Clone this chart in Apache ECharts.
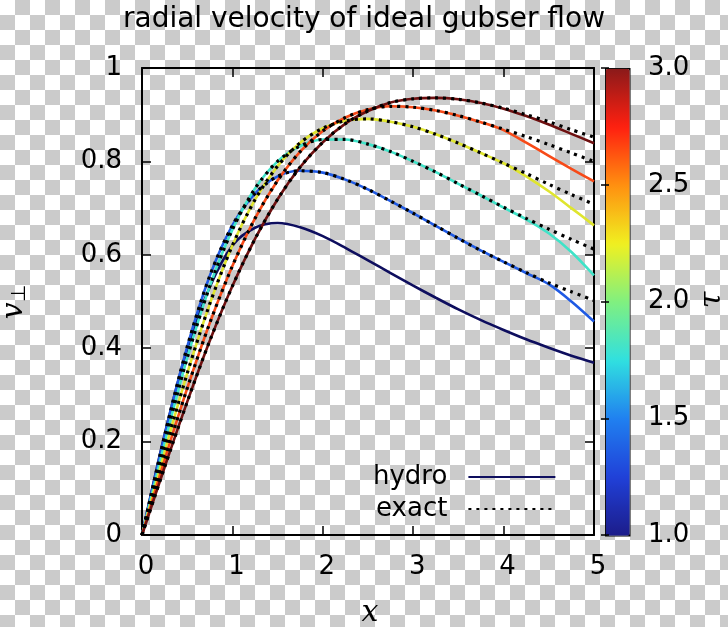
<!DOCTYPE html>
<html>
<head>
<meta charset="utf-8">
<script src="https://cdn.jsdelivr.net/npm/echarts@6/dist/echarts.min.js"></script>
<style>
html,body{margin:0;padding:0;}
body{width:728px;height:627px;background:repeating-conic-gradient(#cbcbcb 0 25%, #ffffff 0 50%) 0 0/30px 30px;}
#c{width:728px;height:627px;}
</style>
</head>
<body>
<div id="c"></div>
<script>
// ---- data ----
const xs = [0,0.25,0.5,0.75,1,1.25,1.5,1.75,2,2.25,2.5,2.75,3,3.25,3.5,3.75,4,4.25,4.5,4.75,5];
const taus = [1.0, 1.4, 1.8, 2.2, 2.6, 3.0];
const tauColors = ['#0e0e5e','#1f5ae4','#3fe3c8','#dfe52e','#f74a18','#6e1010'];

const hydro10 = [0,0.215,0.398,0.531,0.620,0.658,0.668,0.659,0.640,0.615,0.588,0.561,0.534,0.508,0.483,0.460,0.439,0.419,0.401,0.384,0.369];
const hydro14 = [0,0.213,0.403,0.555,0.663,0.731,0.768,0.780,0.776,0.761,0.740,0.715,0.689,0.662,0.635,0.609,0.585,0.561,0.537,0.500,0.457];
const hydro18 = [0,0.197,0.379,0.533,0.654,0.742,0.800,0.833,0.847,0.847,0.837,0.821,0.800,0.777,0.752,0.727,0.701,0.676,0.646,0.606,0.556];
const hydro22 = [0,0.178,0.346,0.495,0.620,0.718,0.790,0.840,0.871,0.887,0.891,0.885,0.874,0.858,0.839,0.818,0.796,0.768,0.736,0.700,0.663];
const hydro26 = [0,0.161,0.314,0.454,0.576,0.678,0.759,0.821,0.865,0.894,0.911,0.918,0.916,0.909,0.898,0.884,0.867,0.840,0.812,0.784,0.757];
const hydro30 = [0,0.145,0.285,0.416,0.533,0.634,0.719,0.788,0.841,0.881,0.908,0.926,0.934,0.936,0.933,0.925,0.913,0.897,0.879,0.859,0.839];

const exact14 = [0,0.213,0.403,0.555,0.663,0.731,0.768,0.780,0.776,0.761,0.740,0.715,0.689,0.662,0.635,0.609,0.585,0.562,0.540,0.521,0.502];
const exact18 = [0,0.197,0.379,0.533,0.654,0.742,0.800,0.833,0.847,0.847,0.837,0.821,0.800,0.777,0.752,0.727,0.702,0.678,0.655,0.633,0.612];
const exact22 = [0,0.178,0.346,0.495,0.620,0.718,0.790,0.840,0.871,0.887,0.891,0.885,0.874,0.858,0.839,0.818,0.796,0.774,0.751,0.729,0.708];
const exact26 = [0,0.161,0.314,0.454,0.576,0.678,0.759,0.821,0.865,0.894,0.911,0.918,0.916,0.909,0.898,0.884,0.869,0.853,0.836,0.818,0.800];
const exact30 = [0,0.145,0.285,0.416,0.533,0.634,0.719,0.788,0.841,0.881,0.908,0.926,0.934,0.936,0.933,0.925,0.914,0.900,0.885,0.868,0.852];

const xTicks = [0,1,2,3,4,5];
const yTicks = [0,0.2,0.4,0.6,0.8,1];
const cbTicks = [1.0,1.5,2.0,2.5,3.0];
const cbColors = ['#1c1c8a','#2040d8','#2080f0','#30e0e0','#80f080','#f0f020','#ff9010','#ff2010','#8b1a1a'];

const hydroSets = [hydro10, hydro14, hydro18, hydro22, hydro26, hydro30];
const exactSets = [null, exact14, exact18, exact22, exact26, exact30];

// ---- chart ----
const FONT = 'DejaVu Sans';
const zip = arr => xs.map((x,i)=>[x,arr[i]]);
const series = [];
hydroSets.forEach((arr,i)=>{
  series.push({type:'line',name:'hydro',data:zip(arr),showSymbol:false,symbol:'none',smooth:0.3,
    xAxisIndex:0,yAxisIndex:0,lineStyle:{color:tauColors[i],width:2.6},itemStyle:{color:tauColors[i]},z:2});
});
exactSets.forEach((arr)=>{
  if(!arr) return;
  series.push({type:'line',name:'exact',data:zip(arr),showSymbol:false,symbol:'none',smooth:0.3,
    xAxisIndex:0,yAxisIndex:0,lineStyle:{color:'#000',width:3.2,type:[3,5],cap:'butt'},itemStyle:{color:'#000'},z:3});
});
series.push({type:'scatter',data:[],xAxisIndex:2,yAxisIndex:2,silent:true});

function frameAxis(extra){
  return Object.assign({
    type:'value', min:0,
    axisLine:{show:true,onZero:false,lineStyle:{color:'#000',width:2}},
    axisTick:{show:true,inside:true,length:9,lineStyle:{color:'#000',width:1.5}},
    splitLine:{show:false}
  }, extra);
}
const chart = echarts.init(document.getElementById('c'),null,{renderer:'canvas'});
chart.setOption({
  backgroundColor:'transparent',
  animation:false,
  textStyle:{fontFamily:FONT},
  grid:[
    {left:142,top:68,width:452,height:467},
    {left:605,top:68,width:24,height:467}
  ],
  xAxis:[
    frameAxis({gridIndex:0,max:5,interval:1,position:'bottom',
      axisLabel:{fontSize:26,color:'#000',fontFamily:FONT,margin:19,padding:[0,0,0,8],formatter:v=>String(v)}}),
    frameAxis({gridIndex:0,max:5,interval:1,position:'top',axisLabel:{show:false}}),
    {type:'value',gridIndex:1,min:0,max:1,show:false}
  ],
  yAxis:[
    frameAxis({gridIndex:0,max:1,interval:0.2,position:'left',
      axisLabel:{fontSize:26,color:'#000',fontFamily:FONT,margin:20,formatter:v=>String(+v.toFixed(1))}}),
    frameAxis({gridIndex:0,max:1,interval:0.2,position:'right',axisLabel:{show:false}}),
    {type:'value',gridIndex:1,min:1,max:3,interval:0.5,position:'right',z:10,
      axisLine:{show:false},splitLine:{show:false},
      axisTick:{show:true,inside:true,length:4,lineStyle:{color:'#000',width:1.5}},
      axisLabel:{fontSize:26,color:'#000',fontFamily:FONT,margin:19,formatter:v=>v.toFixed(1)}},
    {type:'value',gridIndex:1,min:1,max:3,interval:0.5,position:'left',z:10,
      axisLine:{show:false},splitLine:{show:false},
      axisTick:{show:true,inside:true,length:4,lineStyle:{color:'#000',width:1.5}},
      axisLabel:{show:false}}
  ],
  visualMap:{type:'continuous',min:1,max:3,seriesIndex:series.length-1,calculable:false,
    orient:'vertical',left:605,top:68,itemWidth:24,itemHeight:467,padding:0,text:null,showLabel:false,
    borderColor:'#000',borderWidth:1.5,inRange:{color:cbColors}},
  legend:{orient:'vertical',left:368,top:459,align:'right',itemWidth:87,itemHeight:14,itemGap:6,
    data:['hydro','exact'],selectedMode:false,
    itemStyle:{opacity:0},
    textStyle:{fontSize:26,color:'#000',fontFamily:FONT,padding:[0,16,0,0]}},
  graphic:[
    {type:'text',left:'center',top:6,style:{text:'radial velocity of ideal gubser flow',fontSize:28,fontFamily:FONT,fill:'#000'},x:3},
    {type:'text',x:370,y:613,style:{text:'x',fontSize:30,fontFamily:'DejaVu Serif',fontStyle:'italic',fill:'#000',align:'center',verticalAlign:'middle'}},
    {type:'text',x:14,y:302,rotation:Math.PI/2,style:{text:'{v|v}{s|⊥}',align:'center',verticalAlign:'middle',
      rich:{v:{fontSize:30,fontFamily:'DejaVu Serif',fontStyle:'italic',fill:'#000'},s:{fontSize:20,fontFamily:'DejaVu Sans',fill:'#000',padding:[12,0,0,0]}}}},
    {type:'text',x:712,y:300,rotation:Math.PI/2,style:{text:'τ',fontSize:30,fontFamily:'DejaVu Serif',fontStyle:'italic',fill:'#000',align:'center',verticalAlign:'middle'}}
  ],
  series:series
});
</script>
</body>
</html>
